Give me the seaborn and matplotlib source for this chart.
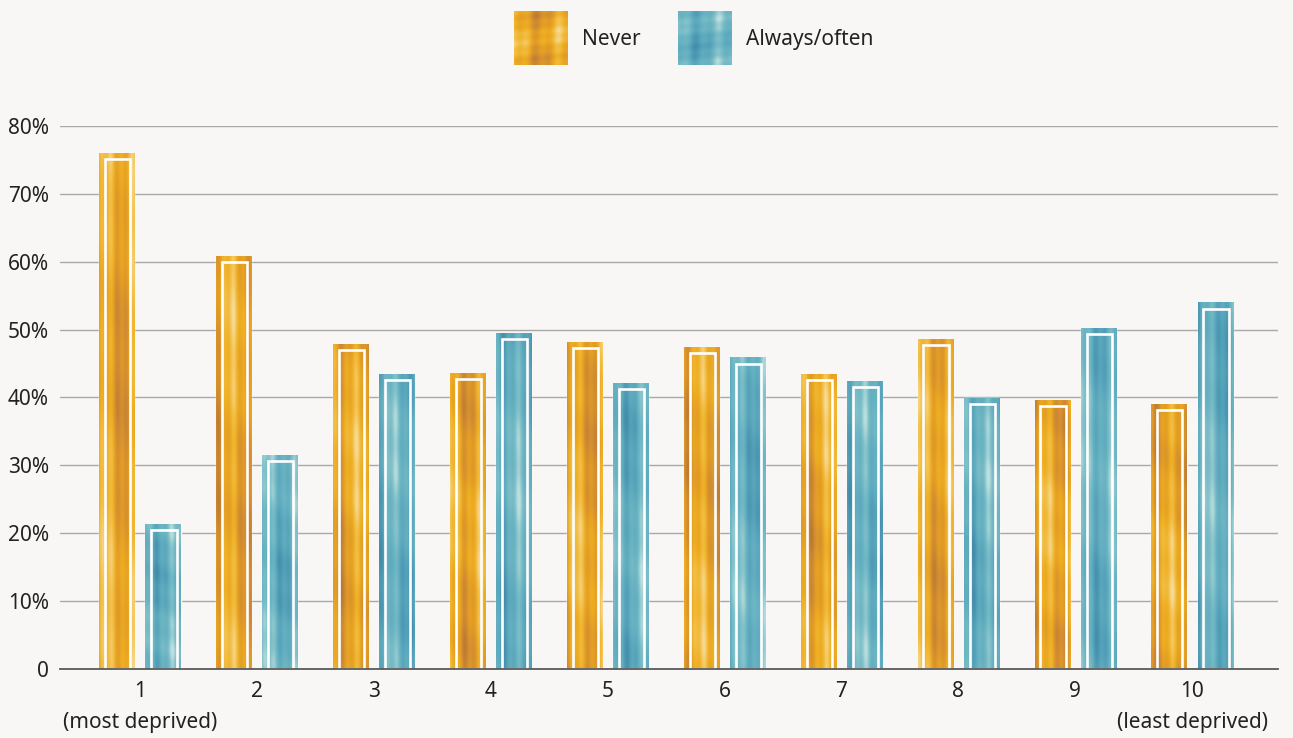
import numpy as np
import pandas as pd
import matplotlib
matplotlib.use("Agg")
import matplotlib.pyplot as plt
import seaborn as sns
from matplotlib.colors import LinearSegmentedColormap
from matplotlib.patches import Rectangle

# Share of respondents by deprivation decile (%)
deciles = ["1", "2", "3", "4", "5", "6", "7", "8", "9", "10"]
tick_labels = ["1\n(most deprived)", "2", "3", "4", "5", "6", "7", "8", "9",
               "10\n(least deprived)"]
never = [76.0, 60.8, 47.9, 43.6, 48.2, 47.5, 43.5, 48.6, 39.6, 39.1]
always_often = [21.4, 31.5, 43.5, 49.5, 42.1, 45.9, 42.4, 39.9, 50.2, 54.0]
series = ["Never", "Always/often"]
y_ticks = [0, 10, 20, 30, 40, 50, 60, 70, 80]
y_tick_labels = ["0", "10%", "20%", "30%", "40%", "50%", "60%", "70%", "80%"]

df = pd.DataFrame({
    "decile": deciles * 2,
    "share": never + always_often,
    "series": [series[0]] * len(deciles) + [series[1]] * len(deciles),
})

BG = "#f8f7f5"
GOLD = "#e4a02a"
TEAL = "#5eabbe"
gold_cmap = LinearSegmentedColormap.from_list(
    "gold", ["#b9772f", "#cf8a33", "#e29c26", "#eeae22", "#f3c04a", "#f7dc9a"])
teal_cmap = LinearSegmentedColormap.from_list(
    "teal", ["#3f88a6", "#4e9bb5", "#5eaabe", "#6cb5c3", "#86c3cb", "#bfe1e0"])

sns.set_theme(style="white")
plt.rcParams["font.family"] = ["Noto Sans", "DejaVu Sans"]
plt.rcParams["text.color"] = "#222222"

fig = plt.figure(figsize=(12.93, 7.38), dpi=100, facecolor=BG)
ax = fig.add_axes([0.0464, 0.0935, 0.942, 0.7358])
ax.set_facecolor(BG)

sns.barplot(data=df, x="decile", y="share", hue="series", hue_order=series,
            palette=[GOLD, TEAL], width=0.79, gap=0.24, errorbar=None,
            legend=False, ax=ax, zorder=2)


def streak_texture(seed, rows=160, cols=28):
    """Painterly, mostly vertical streaks built from a few layered waves."""
    xs = np.linspace(0, 1, cols)[None, :]
    ys = np.linspace(0, 1, rows)[:, None]
    p = seed * 0.731
    t = (0.52
         + 0.20 * np.sin(2 * np.pi * (1.2 * xs + p))
         + 0.12 * np.sin(2 * np.pi * (3.4 * xs + 0.12 * ys + 2 * p))
         + 0.14 * np.sin(2 * np.pi * (1.1 * ys + 0.25 * xs + 3 * p))
         + 0.05 * np.sin(2 * np.pi * (5.0 * ys + 0.4 * xs + p)))
    return np.clip(t, 0, 1)


cmaps = [gold_cmap, teal_cmap]
for s_idx, container in enumerate(ax.containers):
    for b_idx, bar in enumerate(container.patches):
        x0 = bar.get_x()
        w = bar.get_width()
        h = bar.get_height()
        tex = streak_texture(b_idx + 10 * s_idx)
        img = ax.imshow(cmaps[s_idx](tex), extent=(x0, x0 + w, 0, h),
                        origin="lower", aspect="auto", interpolation="bicubic",
                        zorder=2.5)
        img.set_clip_path(bar)
        # inner white frame
        ax.add_patch(Rectangle((x0 + 0.05, 0), w - 0.085, h - 0.9,
                               fill=False, edgecolor="white", lw=1.9,
                               zorder=3))

ax.set_xlim(-0.684, 9.735)
ax.set_ylim(0, 80)
ax.set_yticks(y_ticks)
ax.set_yticklabels(y_tick_labels)
ax.set_xticks(range(len(deciles)))
ax.set_xticklabels(tick_labels, linespacing=1.6)
ax.yaxis.grid(True, color="#a9a9a9", lw=1.0)
ax.set_axisbelow(True)
for side in ["top", "right", "left"]:
    ax.spines[side].set_visible(False)
ax.spines["bottom"].set_color("#5a5a5a")
ax.spines["bottom"].set_linewidth(1.3)
ax.spines["bottom"].set_zorder(4)
ax.tick_params(axis="both", length=0, labelsize=15, colors="#222222")
ax.tick_params(axis="y", pad=8)
ax.tick_params(axis="x", pad=9)
ax.set_xlabel("")
ax.set_ylabel("")

# legend swatches and labels across the top
swatch_positions = [0.3975, 0.5244]
label_positions = [0.4501, 0.5770]
for i, name in enumerate(series):
    sw = fig.add_axes([swatch_positions[i], 0.9119, 0.04176, 0.07317])
    sw.imshow(cmaps[i](streak_texture(3 + 7 * i, rows=30, cols=30)),
              aspect="auto", interpolation="bicubic")
    sw.set_axis_off()
    fig.text(label_positions[i], 0.947, name, fontsize=15,
             va="center", ha="left", color="#222222")

fig.savefig("out.png", dpi=100, facecolor=BG)
